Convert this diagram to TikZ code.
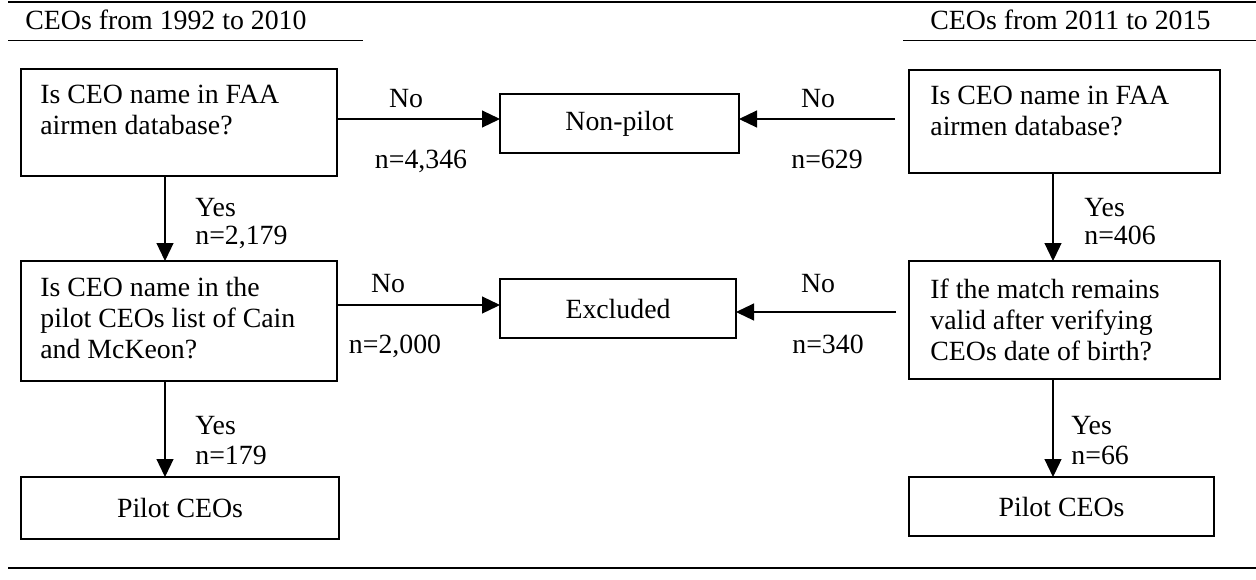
\documentclass[tikz,border=0pt]{standalone}
\usepackage{fontspec}
\setmainfont{Liberation Serif}
\usetikzlibrary{arrows.meta}
\begin{document}
\begin{tikzpicture}[x=0.5pt,y=-0.5pt,
  every node/.style={font=\fontsize{13.9}{15.5}\selectfont},
  rbox/.style={draw, line width=0.6pt, inner sep=0pt, outer sep=0pt},
  qtext/.style={anchor=north west, inner sep=0pt, align=left},
  lab/.style={inner sep=0pt, anchor=base},
  ylab/.style={inner sep=0pt, anchor=base west},
  arr/.style={line width=0.6pt, -{Triangle[length=9pt,width=8.5pt]}},
  rule/.style={line width=1pt}]
\useasboundingbox (0,0) rectangle (1256,579);

% rules and headers
\draw[rule] (8,2) -- (1256,2);
\draw[line width=1.2pt] (8,568) -- (1256,568);
\draw[line width=0.5pt] (8,40) -- (363,40);
\draw[line width=0.5pt] (903,40) -- (1256,40);
\node[ylab] (hL) at (25,29) {CEOs from 1992 to 2010};
\node[ylab] (hR) at (930,29) {CEOs from 2011 to 2015};

% boxes
\node[rbox, minimum width=158pt, minimum height=53.5pt] (q1L) at (179,122.5) {};
\node[qtext] (t1L) at (40,85) {Is CEO name in FAA\\airmen database?};
\node[rbox, minimum width=155.5pt, minimum height=51.5pt] (q1R) at (1064.5,121.5) {};
\node[qtext] (t1R) at (930,86) {Is CEO name in FAA\\airmen database?};
\node[rbox, minimum width=119.5pt, minimum height=29.5pt] (np) at (619.5,123.5) {Non-pilot};

\node[rbox, minimum width=158pt, minimum height=60pt] (q2L) at (179,321) {};
\node[qtext] (t2L) at (40,277) {Is CEO name in the\\pilot CEOs list of Cain\\and McKeon?};
\node[rbox, minimum width=155.5pt, minimum height=59pt] (q2R) at (1064.5,320) {};
\node[qtext] (t2R) at (930,279) {If the match remains\\valid after verifying\\CEOs date of birth?};
\node[rbox, minimum width=118pt, minimum height=29.5pt] (ex) at (618,308.5) {Excluded};

\node[rbox, minimum width=159pt, minimum height=31pt] (pL) at (180,508) {Pilot CEOs};
\node[rbox, minimum width=152.5pt, minimum height=29.5pt] (pR) at (1061.5,506.5) {Pilot CEOs};

% horizontal arrows
\draw[arr] (q1L.east |- 0,119) -- (np.west |- 0,119);
\draw[arr] ([xshift=-7pt]q1R.west |- 0,119) -- (np.east |- 0,119);
\draw[arr] (q2L.east |- 0,305) -- (ex.west |- 0,305);
\draw[arr] ([xshift=-6.5pt]q2R.west |- 0,312) -- (ex.east |- 0,312);

% vertical arrows
\draw[arr] (q1L.south -| 165,0) -- (q2L.north -| 165,0);
\draw[arr] (q2L.south -| 165,0) -- (pL.north -| 165,0);
\draw[arr] (q1R.south -| 1053,0) -- (q2R.north -| 1053,0);
\draw[arr] (q2R.south -| 1053,0) -- (pR.north -| 1053,0);

% labels
\node[lab] (no1) at (406,107.5) {No};
\node[lab] (n1) at (421,168.5) {n=4,346};
\node[lab] (no2) at (818,107.5) {No};
\node[lab] (n2) at (827,168.5) {n=629};
\node[lab] (no3) at (388,292.5) {No};
\node[lab] (n3) at (395,353.5) {n=2,000};
\node[lab] (no4) at (818,292.5) {No};
\node[lab] (n4) at (828,353.5) {n=340};

\node[ylab] (y1) at (195,216) {Yes};
\node[ylab] (y1n) at (195,244) {n=2,179};
\node[ylab] (y2) at (195,434) {Yes};
\node[ylab] (y2n) at (195,464) {n=179};
\node[ylab] (y3) at (1084,216) {Yes};
\node[ylab] (y3n) at (1084,244) {n=406};
\node[ylab] (y4) at (1071,434) {Yes};
\node[ylab] (y4n) at (1071,464) {n=66};
\end{tikzpicture}
\end{document}
